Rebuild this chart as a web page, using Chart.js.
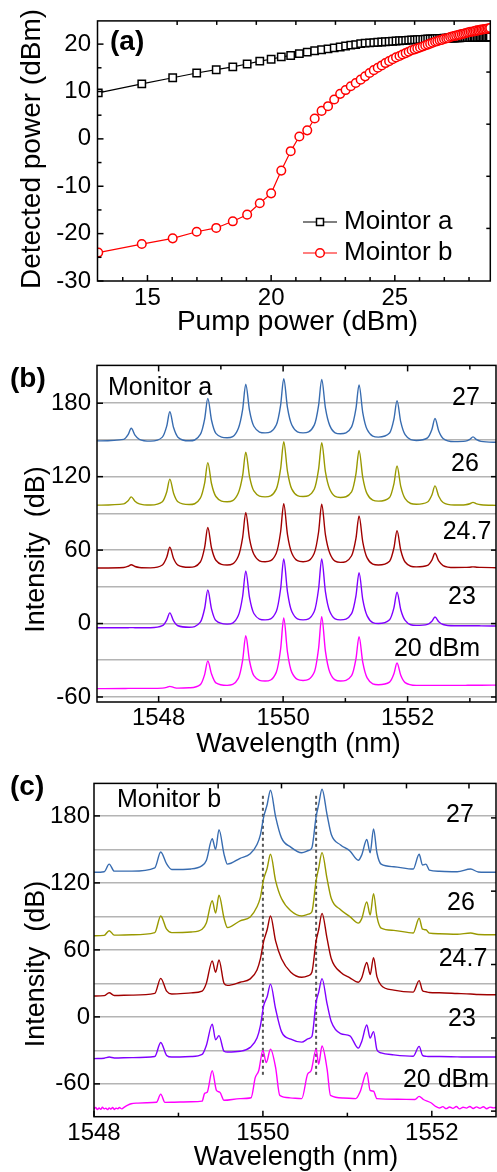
<!DOCTYPE html>
<html>
<head>
<meta charset="utf-8">
<script src="https://cdn.jsdelivr.net/npm/chart.js@4.4.1/dist/chart.umd.min.js"></script>
<style>
  body { margin: 0; background: #fff; }
  .panel { position: absolute; left: 0; width: 497px; }
</style>
</head>
<body>
<div class="panel" style="top:0;height:345px"><canvas id="chartA"></canvas></div>
<div class="panel" style="top:345px;height:420px"><canvas id="chartB"></canvas></div>
<div class="panel" style="top:765px;height:407px"><canvas id="chartC"></canvas></div>
<script>
"use strict";

// ---- (a) detected power vs pump power (10 mW pump steps) ----
const pumpDbm = [
  13.01, 14.77, 16.02, 16.99, 17.78, 18.45, 19.03, 19.54, 20.00, 20.41,
  20.79, 21.14, 21.46, 21.76, 22.04, 22.30, 22.55, 22.79, 23.01, 23.22,
  23.42, 23.62, 23.80, 23.98, 24.15, 24.31, 24.47, 24.62, 24.77, 24.91,
  25.05, 25.19, 25.31, 25.44, 25.56, 25.68, 25.80, 25.91, 26.02, 26.13,
  26.23, 26.33, 26.43, 26.53, 26.63, 26.72, 26.81, 26.90, 26.99, 27.08,
  27.16, 27.24, 27.32, 27.40, 27.48, 27.56, 27.63, 27.71, 27.78, 27.85,
  27.92, 27.99, 28.06, 28.13, 28.20, 28.26, 28.33, 28.39, 28.45, 28.51,
  28.57, 28.63, 28.69, 28.75, 28.81, 28.86, 28.92, 28.98
];
const monitorA = [
  9.7, 11.6, 12.9, 13.9, 14.6, 15.2, 15.8, 16.4, 16.8, 17.3,
  17.6, 18.0, 18.3, 18.6, 18.8, 19.0, 19.2, 19.4, 19.6, 19.8,
  19.9, 20.1, 20.2, 20.25, 20.3, 20.4, 20.45, 20.5, 20.55, 20.6,
  20.65, 20.7, 20.75, 20.8, 20.85, 20.9, 20.9, 20.95, 21.0, 21.0,
  21.05, 21.1, 21.1, 21.1, 21.15, 21.2, 21.2, 21.2, 21.25, 21.25,
  21.3, 21.3, 21.3, 21.3, 21.35, 21.35, 21.35, 21.4, 21.4, 21.4,
  21.4, 21.4, 21.4, 21.45, 21.45, 21.45, 21.45, 21.45, 21.5, 21.5,
  21.5, 21.5, 21.5, 21.5, 21.5, 21.5, 21.5, 21.5
];
const monitorB = [
  -24.0, -22.2, -21.0, -19.6, -18.8, -17.4, -16.0, -13.6, -11.5, -6.7,
  -2.6, 0.5, 1.8, 4.3, 5.9, 6.9, 8.3, 9.5, 10.3, 11.1,
  11.8, 12.5, 13.2, 13.9, 14.5, 15.0, 15.5, 16.0, 16.4, 16.8,
  17.2, 17.5, 17.8, 18.1, 18.4, 18.7, 18.9, 19.1, 19.3, 19.5,
  19.7, 19.9, 20.1, 20.3, 20.5, 20.6, 20.8, 20.9, 21.1, 21.2,
  21.3, 21.5, 21.6, 21.7, 21.8, 21.9, 22.0, 22.1, 22.2, 22.3,
  22.4, 22.5, 22.6, 22.6, 22.7, 22.8, 22.9, 22.9, 23.0, 23.1,
  23.1, 23.2, 23.2, 23.3, 23.3, 23.4, 23.4, 23.5
];
const pumpLabels = [15, 20, 25];
const powerLabels = [-30, -20, -10, 0, 10, 20];

// ---- (b) spectra at monitor a, offset per pump level ----
const wlB = [
  1547.00,
  1547.44, 1547.51, 1547.56, 1547.62, 1547.69, 1547.87,
  1548.06, 1548.13, 1548.18, 1548.24, 1548.31, 1548.49,
  1548.67, 1548.74, 1548.79, 1548.85, 1548.92, 1549.10,
  1549.28, 1549.35, 1549.40, 1549.46, 1549.53, 1549.71,
  1549.89, 1549.96, 1550.01, 1550.07, 1550.14, 1550.32,
  1550.50, 1550.57, 1550.62, 1550.68, 1550.75, 1550.92,
  1551.10, 1551.17, 1551.22, 1551.28, 1551.35, 1551.53,
  1551.71, 1551.78, 1551.83, 1551.89, 1551.96, 1552.14,
  1552.32, 1552.39, 1552.44, 1552.50, 1552.57, 1552.75,
  1552.93, 1553.00, 1553.05, 1553.11, 1553.18,
  1553.45
];
const b27 = [
  149.2,
  150.5, 154.4, 159.5, 153.9, 150.5, 149,
  152.3, 161.3, 173, 160.1, 152.3, 149.3,
  154.5, 167.3, 184, 166.1, 155.4, 151.8,
  159.4, 175, 195.5, 174.1, 161.2, 155.8,
  162.2, 178.5, 200, 176.4, 162.2, 155.8,
  162.1, 178.3, 199.5, 175.9, 161.7, 155,
  160.7, 175.5, 195, 172.2, 158.5, 152.3,
  155.6, 167, 182, 164.7, 154.3, 149.6,
  151.7, 158.5, 167.5, 157.3, 151.2, 148.6,
  149, 150.5, 152.5, 150.2, 148.8,
  148
];
const b26 = [
  96.7,
  97.8, 100.3, 103.5, 99.9, 97.8, 96.8,
  99.5, 107.5, 118, 106.5, 99.5, 97.2,
  102.5, 115, 131.5, 114.2, 103.8, 99.5,
  106.6, 121, 140, 120.2, 108.3, 103.5,
  109.8, 126.5, 148.5, 124.3, 109.8, 103.8,
  109.7, 126.1, 147.7, 123.9, 109.7, 103,
  107.6, 122.3, 141.5, 119.2, 105.9, 100,
  103, 114.1, 128.7, 112.1, 102.1, 97.5,
  99.3, 105, 112.5, 104, 98.9, 96.8,
  97.1, 97.9, 99, 97.8, 97.1,
  96.5
];
const b247 = [
  45.4,
  45.8, 46.8, 48, 46.6, 45.8, 45.5,
  47.8, 54.1, 62.3, 53.2, 47.8, 46,
  50.3, 62.5, 78.5, 61.7, 51.7, 47.8,
  54.9, 70.4, 90.7, 69.4, 56.6, 50.5,
  57.5, 75, 98, 72.7, 57.5, 50.5,
  57.5, 74.8, 97.5, 72.5, 57.5, 50,
  55.4, 69.5, 88, 66.6, 53.7, 47.8,
  50.9, 61.7, 75.8, 59.9, 50.3, 46.3,
  47.5, 51.8, 57.4, 51.1, 47.4, 45.8,
  45.9, 46, 46.3, 46, 45.9,
  45.6
];
const b23 = [
  -3.5,
  -3.4, -3.4, -3.3, -3.4, -3.4, -3.4,
  -1.8, 2.8, 8.7, 2.2, -1.8, -3,
  1.1, 12.5, 27.4, 11.8, 2.4, -0.5,
  6.5, 22.3, 43, 21.3, 8.2, 3,
  9.8, 28.4, 52.7, 25.9, 9.8, 3,
  9.8, 28.4, 52.7, 25.9, 9.8, 3,
  8.1, 22.6, 41.6, 19.5, 6.3, 0,
  3.1, 12.8, 25.6, 11.3, 2.6, -1.5,
  -0.7, 1.9, 5.3, 1.5, -0.8, -1.8,
  -1.8, -1.8, -1.8, -1.8, -1.9,
  -2
];
const b20 = [
  -53.2,
  -53.1, -53, -53, -53, -53, -53,
  -52.8, -52.2, -51.3, -52.2, -52.8, -52.5,
  -49.9, -41.5, -30.5, -41.3, -48.5, -50.5,
  -44.8, -29.8, -10, -30.4, -42.6, -47,
  -39.9, -20.8, 4.5, -23.3, -39.9, -46.5,
  -39.8, -20.2, 5.6, -22.8, -39.8, -47,
  -42.6, -28.9, -10.7, -31.8, -44.4, -50,
  -47.9, -41.1, -32.2, -42.3, -48.3, -50.5,
  -50.5, -50.5, -50.5, -50.5, -50.5, -50.5,
  -50.5, -50.4, -50.4, -50.4, -50.4,
  -50.3
];

// ---- (c) spectra at monitor b ----
const wlC = [
  1548.00, 1548.12, 1548.18, 1548.24, 1548.45, 1548.72, 1548.79, 1548.86, 1548.92,
  1549.15, 1549.28, 1549.33, 1549.40, 1549.44, 1549.48, 1549.54, 1549.58, 1549.73,
  1549.85, 1549.93, 1549.97, 1550.01, 1550.05, 1550.09, 1550.15, 1550.22, 1550.33,
  1550.46, 1550.54, 1550.58, 1550.63, 1550.66, 1550.70, 1550.76, 1550.81, 1550.92,
  1551.03, 1551.13, 1551.17, 1551.23, 1551.27, 1551.31, 1551.35, 1551.40, 1551.55,
  1551.78, 1551.85, 1551.89, 1551.93, 1551.97, 1552.09, 1552.30, 1552.46, 1552.55,
  1552.77
];
const c27 = [
  129.5, 130, 136.8, 130.5, 130.5, 133.5, 147.7, 137, 132,
  132.5, 135.5, 140, 159.5, 150, 167.7, 145.6, 136.8, 142,
  146, 154.4, 163, 179.4, 190, 203, 179.4, 160.3, 152,
  147, 149, 151.5, 179.4, 190, 203.8, 180.9, 163.3, 154,
  148.6, 140.3, 145, 158.9, 147, 168.3, 147, 136.8, 134.5,
  132.4, 145.6, 136, 136.8, 131.5, 130.4, 130, 132.4, 129.8,
  129.5
];
const c26 = [
  72.7, 73, 77.2, 73.2, 73.5, 75.5, 90.4, 78.5, 75.5,
  76, 78.5, 84, 104, 93, 108.9, 88.3, 80, 86,
  89.5, 98.6, 107, 123.6, 133, 145.6, 122.1, 106, 95,
  90.4, 92, 94.2, 122.1, 133, 147.1, 123.6, 106, 96,
  89.8, 84, 88, 103, 91.2, 110.4, 89.8, 79.5, 77.5,
  75.1, 88.3, 78.5, 78, 75, 74.5, 74, 75.1, 73.8,
  73.6
];
const c247 = [
  18.7, 19, 21.6, 19.2, 19.5, 21, 34.5, 23, 20.5,
  21.5, 23.1, 30, 50.2, 40, 51, 30, 28.2, 31,
  34, 42, 52, 68, 78, 90.4, 68, 52, 40,
  35.5, 37, 40, 68, 78, 92.7, 70, 52, 40,
  35, 31, 35, 48.7, 38, 53, 36, 28.2, 24,
  22.2, 32.5, 23.5, 22.5, 21.8, 21.6, 21, 20.5, 20,
  19.8
];
const c23 = [
  -37.4, -37, -36, -36.8, -36.5, -35.5, -22.9, -34.5, -36,
  -35.5, -33.6, -25.6, -6.5, -20.6, -16.8, -30.8, -31.5, -30.8,
  -27.3, -19, -8, 10.3, 18, 29.3, 7.3, -13.2, -20,
  -22.6, -19.5, -17.6, 13.2, 22, 34.3, 11.7, -4.4, -15,
  -17, -28, -22, -7.3, -19, -13.2, -29.4, -32.3, -34,
  -35.3, -26.4, -34.5, -35.3, -35.5, -35.5, -35.8, -36, -36,
  -36
];
const wlC20 = [
  1548.00, 1548.02, 1548.04, 1548.06, 1548.08, 1548.10, 1548.12, 1548.14,
  1548.16, 1548.18, 1548.20, 1548.22, 1548.24, 1548.26, 1548.28, 1548.30,
  1548.33, 1548.36, 1548.40, 1548.44, 1548.52, 1548.62, 1548.74, 1548.79, 1548.84, 1548.95,
  1549.15, 1549.28, 1549.31, 1549.34, 1549.40, 1549.45, 1549.49, 1549.54, 1549.73, 1549.86,
  1549.91, 1549.95,
  1550.00, 1550.04, 1550.09, 1550.15, 1550.20, 1550.32, 1550.46, 1550.53, 1550.57, 1550.63,
  1550.66, 1550.70, 1550.76, 1550.80, 1550.95,
  1551.10, 1551.15, 1551.23, 1551.27, 1551.31, 1551.35, 1551.60, 1551.80, 1551.85, 1551.90,
  1551.99,
  1552.05, 1552.09, 1552.13, 1552.17, 1552.21, 1552.25, 1552.29, 1552.33, 1552.37, 1552.41,
  1552.45, 1552.49, 1552.53, 1552.57, 1552.61, 1552.65, 1552.69, 1552.73, 1552.77
];
const c20 = [
  -82.5, -81.2, -83.0, -81.6, -82.8, -81.0, -82.4, -81.7,
  -83.1, -81.5, -82.6, -81.1, -82.9, -81.8, -82.3, -81.2,
  -82.4, -80.8, -79.0, -77.8, -77.2, -76.9, -76.5, -69.2, -76.6, -76.4,
  -76.0, -75.5, -68.5, -67.5, -48.3, -65.9, -67.5, -74.7, -73.2, -72.4,
  -54.2, -48.3,
  -30.0, -41.0, -28.9, -45.3, -70.3, -72.5, -73.2, -51.2, -48.3, -28.9,
  -42.4, -26.1, -46.8, -70.3, -72.6,
  -73.2, -67.3, -49.8, -65.9, -66.6, -73.2, -73.8, -74.0, -71.2, -74.0,
  -76.9,
  -80.4, -81.6, -80.4, -82.2, -80.7, -81.9, -80.3, -82.4, -80.9, -81.7,
  -80.2, -82.0, -80.6, -81.8, -80.5, -82.3, -80.8, -81.5, -80.9
];
const guideWl = [1550.0, 1550.63];
const guideSpan = [-54, 198];

const wlLabels = [1548, 1550, 1552];
const gridDb = [-60, -30, 0, 30, 60, 90, 120, 150, 180];
const dbLabels = [-60, 0, 60, 120, 180];
const pumpLevels = ["27", "26", "24.7", "23", "20 dBm"];

const traceColors = ["rgb(56,108,176)", "rgb(153,153,0)", "rgb(160,0,0)", "rgb(128,0,255)", "rgb(255,0,255)"];
const FONT = '"Liberation Sans", Arial, sans-serif';
const font = (size, bold) => `${bold ? "bold " : ""}${size}px ${FONT}`;

const pts = (xs, ys) => xs.map((x, i) => ({ x, y: ys[i] }));

// frame, inward tick marks and free text
const decor = {
  id: "decor",
  afterDatasetsDraw(chart, args, o) {
    const { ctx, chartArea: a } = chart;
    const sx = chart.scales.x, sy = chart.scales.y;
    ctx.save();
    ctx.strokeStyle = "#000";
    ctx.lineWidth = 1.5;
    const mark = (x0, y0, x1, y1) => {
      ctx.beginPath(); ctx.moveTo(x0, y0); ctx.lineTo(x1, y1); ctx.stroke();
    };
    for (const [vals, len] of o.bottom) vals.forEach((v) => { const p = sx.getPixelForValue(v); mark(p, a.bottom, p, a.bottom - len); });
    for (const [vals, len] of o.top) vals.forEach((v) => { const p = sx.getPixelForValue(v); mark(p, a.top, p, a.top + len); });
    for (const [vals, len] of o.left) vals.forEach((v) => { const p = sy.getPixelForValue(v); mark(a.left, p, a.left + len, p); });
    for (const [vals, len] of o.right) vals.forEach((v) => { const p = sy.getPixelForValue(v); mark(a.right, p, a.right - len, p); });
    ctx.strokeRect(a.left, a.top, a.right - a.left, a.bottom - a.top);

    ctx.fillStyle = "#000";
    ctx.textBaseline = "middle";
    for (const t of o.texts) {
      ctx.save();
      ctx.font = t.font;
      ctx.textAlign = t.align || "center";
      ctx.translate(t.x, t.y);
      if (t.rotate) ctx.rotate(-Math.PI / 2);
      ctx.fillText(t.text, 0, 0);
      ctx.restore();
    }

    if (o.legend) {
      ctx.lineWidth = 1.2;
      for (const item of o.legend) {
        ctx.strokeStyle = item.color;
        mark(303, item.y, 337, item.y);
        ctx.fillStyle = "#fff";
        ctx.lineWidth = 1.5;
        ctx.beginPath();
        if (item.square) ctx.rect(316.5, item.y - 3.5, 7, 7);
        else ctx.arc(320, item.y, 4.3, 0, Math.PI * 2);
        ctx.fill(); ctx.stroke();
        ctx.fillStyle = "#000";
        ctx.font = font(26);
        ctx.textAlign = "left";
        ctx.fillText(item.text, 344, item.y);
        ctx.lineWidth = 1.2;
      }
    }
    ctx.restore();
  }
};

// dotted guide lines through the 20 dBm line centres
const guides = {
  id: "guides",
  beforeDatasetsDraw(chart, args, o) {
    if (!o.wl) return;
    const { ctx } = chart;
    const sx = chart.scales.x, sy = chart.scales.y;
    ctx.save();
    ctx.strokeStyle = "#555";
    ctx.lineWidth = 2;
    ctx.setLineDash([3, 3]);
    for (const w of o.wl) {
      const p = sx.getPixelForValue(w);
      ctx.beginPath();
      ctx.moveTo(p, sy.getPixelForValue(o.span[1]));
      ctx.lineTo(p, sy.getPixelForValue(o.span[0]));
      ctx.stroke();
    }
    ctx.restore();
  }
};

function axis(cfg) {
  return {
    type: "linear",
    min: cfg.min,
    max: cfg.max,
    afterFit: (s) => { s[cfg.sizeProp] = cfg.size; },
    afterBuildTicks: (s) => { s.ticks = cfg.ticks.map((v) => ({ value: v })); },
    grid: cfg.grid
      ? { display: true, color: "#b4b4b4", lineWidth: 1.6, drawTicks: false }
      : { display: false, drawTicks: false },
    border: { display: false },
    ticks: {
      autoSkip: false,
      maxRotation: 0,
      minRotation: 0,
      padding: cfg.pad,
      color: "#000",
      font: { family: FONT, size: 24 },
      callback: (v) => (cfg.labels.includes(v) ? String(v) : "")
    }
  };
}

function options(cfg) {
  return {
    responsive: true,
    maintainAspectRatio: false,
    animation: false,
    events: [],
    layout: { padding: { top: cfg.top, right: 1, left: 0, bottom: 0 } },
    plugins: {
      legend: { display: false },
      tooltip: { enabled: false },
      decor: cfg.decor,
      guides: cfg.guides || {}
    },
    scales: { x: cfg.x, y: cfg.y }
  };
}

// ---- panel (a) ----
new Chart(document.getElementById("chartA"), {
  type: "line",
  plugins: [decor, guides],
  data: {
    datasets: [
      {
        data: pts(pumpDbm, monitorB),
        borderColor: "#ff0000", borderWidth: 1.2,
        pointStyle: "circle", pointRadius: 4.3, pointBorderWidth: 1.5,
        pointBorderColor: "#ff0000", pointBackgroundColor: "#fff"
      },
      {
        data: pts(pumpDbm, monitorA),
        borderColor: "#000", borderWidth: 1.2,
        pointStyle: "rect", pointRadius: 5.2, pointBorderWidth: 1.5,
        pointBorderColor: "#000", pointBackgroundColor: "#fff"
      }
    ]
  },
  options: options({
    top: 12,
    x: axis({ min: 12.98, max: 28.86, sizeProp: "height", size: 64, ticks: pumpLabels, labels: pumpLabels, pad: 3 }),
    y: axis({ min: -30, max: 24.9, sizeProp: "width", size: 97.5, ticks: powerLabels, labels: powerLabels, pad: 6.5 }),
    decor: {
      bottom: [[pumpLabels, 6], [[14, 16, 17, 18, 19, 21, 22, 23, 24, 26, 27, 28], 4]],
      top: [[[16.2, 17.8, 19.4, 21.0, 22.6, 24.2, 25.8, 27.4], 4]],
      left: [[powerLabels, 6], [[-25, -15, -5, 5, 15], 4]],
      right: [[[14.1, 3.1, -7.9, -18.9], 4]],
      texts: [
        { text: "(a)", x: 110, y: 42, font: font(28, true), align: "left" },
        { text: "Detected power (dBm)", x: 32, y: 149, font: font(28), rotate: true },
        { text: "Pump power (dBm)", x: 297.5, y: 322, font: font(28) }
      ],
      legend: [
        { text: "Mointor a", y: 222, color: "#000", square: true },
        { text: "Mointor b", y: 253, color: "#ff0000", square: false }
      ]
    }
  })
});

function spectra(xs, list) {
  return list.map((item, i) => ({
    data: pts(item.x || xs, item.y),
    borderColor: traceColors[i],
    borderWidth: 1.4,
    pointRadius: 0,
    cubicInterpolationMode: "monotone"
  }));
}

// ---- panel (b) ----
new Chart(document.getElementById("chartB"), {
  type: "line",
  plugins: [decor, guides],
  data: { datasets: spectra(wlB, [{ y: b27 }, { y: b26 }, { y: b247 }, { y: b23 }, { y: b20 }]) },
  options: options({
    top: 19,
    x: axis({ min: 1547.01, max: 1553.42, sizeProp: "height", size: 63, ticks: wlLabels, labels: wlLabels, pad: 2 }),
    y: axis({ min: -64.1, max: 210.9, sizeProp: "width", size: 97, ticks: gridDb, labels: dbLabels, pad: 6, grid: true }),
    decor: {
      bottom: [[wlLabels, 6], [[1549, 1551, 1553], 4]],
      top: [[wlLabels, 6], [[1549, 1551, 1553], 4]],
      left: [[dbLabels, 6]],
      right: [[dbLabels, 5]],
      texts: [
        { text: "(b)", x: 10, y: 34, font: font(28, true), align: "left" },
        { text: "Monitor a", x: 108, y: 43, font: font(25), align: "left" },
        { text: pumpLevels[0], x: 466, y: 53, font: font(25) },
        { text: pumpLevels[1], x: 465, y: 119, font: font(25) },
        { text: pumpLevels[2], x: 467, y: 187, font: font(25) },
        { text: pumpLevels[3], x: 462, y: 252, font: font(25) },
        { text: pumpLevels[4], x: 437, y: 304, font: font(25) },
        { text: "Intensity  (dB)", x: 37, y: 204.5, font: font(27), rotate: true },
        { text: "Wavelength (nm)", x: 298.5, y: 400, font: font(27) }
      ]
    }
  })
});

// ---- panel (c) ----
new Chart(document.getElementById("chartC"), {
  type: "line",
  plugins: [decor, guides],
  data: { datasets: spectra(wlC, [{ y: c27 }, { y: c26 }, { y: c247 }, { y: c23 }, { x: wlC20, y: c20 }]) },
  options: options({
    top: 13,
    x: axis({ min: 1548.0, max: 1552.76, sizeProp: "height", size: 55.3, ticks: wlLabels, labels: wlLabels, pad: 2 }),
    y: axis({ min: -89.4, max: 209.1, sizeProp: "width", size: 94, ticks: gridDb, labels: dbLabels, pad: 4, grid: true }),
    guides: { wl: guideWl, span: guideSpan },
    decor: {
      bottom: [[wlLabels, 6], [[1549, 1551], 4]],
      top: [[[1548.75, 1549.47, 1550.22, 1550.96, 1551.70, 1552.44], 5]],
      left: [[dbLabels, 6]],
      right: [[[178.2, 112.6, 46.9, -18.9, -84.4], 5]],
      texts: [
        { text: "(c)", x: 10, y: 22, font: font(28, true), align: "left" },
        { text: "Monitor b", x: 117, y: 35, font: font(25), align: "left" },
        { text: pumpLevels[0], x: 460, y: 50, font: font(25) },
        { text: pumpLevels[1], x: 461, y: 138, font: font(25) },
        { text: pumpLevels[2], x: 463, y: 194, font: font(25) },
        { text: pumpLevels[3], x: 462, y: 254, font: font(25) },
        { text: pumpLevels[4], x: 446, y: 315, font: font(25) },
        { text: "Intensity  (dB)", x: 37, y: 199, font: font(27), rotate: true },
        { text: "Wavelength (nm)", x: 296, y: 393, font: font(27) }
      ]
    }
  })
});
</script>
</body>
</html>
